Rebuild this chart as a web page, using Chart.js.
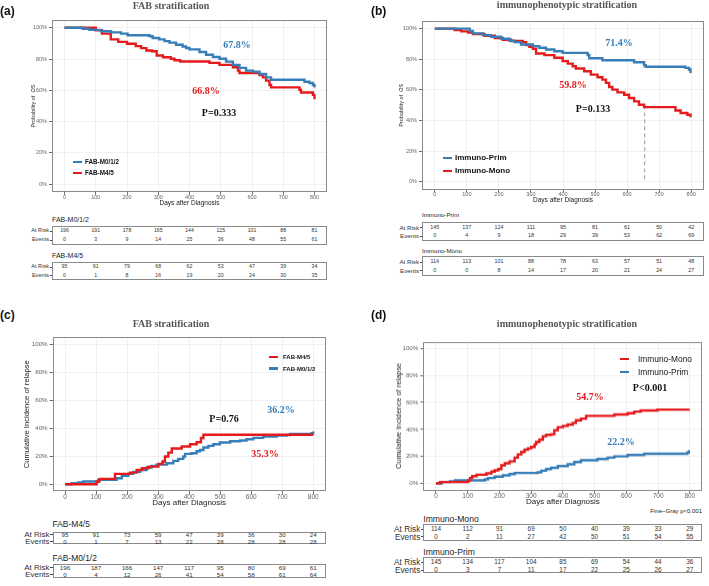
<!DOCTYPE html>
<html>
<head>
<meta charset="utf-8">
<script src="https://cdn.jsdelivr.net/npm/chart.js@4.4.0/dist/chart.umd.min.js"></script>
<style>
  body { margin: 0; background: #fff; }
  #fig { position: relative; width: 709px; height: 586px; overflow: hidden; font-family: "Liberation Sans", Arial, sans-serif; color: #222; }
  canvas { position: absolute; }
  .t { position: absolute; white-space: nowrap; line-height: 1; }
  .serif { font-family: "Liberation Serif", "Times New Roman", serif; font-weight: bold; }
  .box { position: absolute; border: 1px solid #8a8a8a; box-sizing: border-box; }
  .key { position: absolute; height: 2.5px; }
</style>
</head>
<body>
<div id="fig"></div>
<script>
// ---- shared ticks ----
const dayTicks = [0, 100, 200, 300, 400, 500, 600, 700, 800];
const pctTicks = [0, 20, 40, 60, 80, 100];

// ---- (a) OS by FAB ----
const osM012Days = [0, 58, 80, 117, 149, 181, 202, 272, 282, 303, 320, 336, 357, 378, 389, 400, 432, 453, 475, 496, 517, 539, 560, 581, 603, 624, 645, 661, 768, 784, 795, 800];
const osM012Surv = [100, 99.4, 98.7, 97.8, 97.1, 96.3, 95.2, 94.6, 93.5, 92.6, 91.5, 90.5, 89.2, 88.1, 87.1, 86.2, 84.5, 82.8, 81.3, 80.2, 78.4, 76.3, 74.4, 72.6, 72, 70.5, 68.3, 66.8, 65.5, 64.7, 63.4, 61.9];
const osM45Days = [0, 100, 120, 148, 172, 200, 228, 245, 262, 280, 295, 315, 340, 352, 370, 464, 496, 539, 555, 560, 624, 635, 645, 656, 661, 752, 757, 795, 800];
const osM45Surv = [100, 98.4, 96.3, 92.6, 91, 89.8, 88.3, 87, 85.5, 85, 82.3, 81.2, 80.2, 79.3, 78.5, 77.6, 76.3, 74.8, 72.6, 71.1, 69.8, 68.3, 66.2, 63.4, 61.9, 60.3, 58.6, 57.1, 54.3];
const riskM012A = [196, 191, 178, 165, 144, 125, 101, 88, 81];
const eventsM012A = [0, 3, 9, 14, 25, 36, 48, 55, 61];
const riskM45A = [95, 91, 79, 68, 62, 53, 47, 39, 34];
const eventsM45A = [0, 1, 8, 16, 19, 20, 24, 30, 35];

// ---- (b) OS by immunophenotype ----
const osPrimDays = [0, 109, 119, 150, 176, 207, 233, 249, 269, 306, 326, 347, 373, 399, 477, 482, 523, 622, 653, 658, 782, 793, 798];
const osPrimSurv = [100, 98.5, 96.9, 95.8, 94.7, 93.4, 92.1, 91.2, 89.7, 88.6, 87.5, 86.4, 85.3, 84.2, 82.7, 80.7, 79.4, 78.1, 76.1, 75.1, 74.4, 73.3, 71.1];
const osMonoDays = [0, 62, 83, 104, 119, 155, 187, 212, 238, 275, 285, 295, 306, 316, 342, 373, 399, 415, 430, 440, 466, 487, 508, 523, 534, 544, 554, 570, 591, 606, 622, 637, 653, 751, 767, 788, 798];
const osMonoSurv = [100, 99.1, 98.2, 97.4, 96.5, 95.4, 93.9, 92.8, 91.9, 91.2, 89.3, 88.2, 86.9, 83.8, 82.7, 81, 78.8, 77.2, 75.5, 74, 72.2, 70, 68.3, 66.7, 64.6, 61.9, 60.2, 58.4, 56.9, 54.7, 52.5, 50.3, 48.8, 46.6, 44.9, 43.8, 42.2];
const medianMonoDay = 655;
const riskPrimB = [145, 137, 124, 111, 95, 81, 61, 50, 42];
const eventsPrimB = [0, 4, 9, 18, 29, 39, 53, 62, 69];
const riskMonoB = [114, 113, 101, 88, 78, 63, 57, 51, 48];
const eventsMonoB = [0, 0, 8, 14, 17, 20, 21, 24, 27];

// ---- (c) relapse by FAB ----
const ciM45Days = [0, 102, 111, 161, 209, 231, 248, 269, 301, 314, 322, 333, 344, 376, 403, 424, 438, 446, 800];
const ciM45Vals = [0, 1.9, 3.8, 7.4, 8.3, 10.2, 11.4, 12.6, 14.5, 16.2, 19.8, 22.6, 25.5, 26.9, 28.6, 30, 33, 35.3, 35.3];
const ciM012Days = [0, 21, 43, 59, 107, 166, 183, 204, 220, 242, 263, 279, 295, 328, 349, 365, 381, 387, 408, 424, 435, 446, 462, 478, 499, 532, 564, 585, 607, 639, 682, 714, 725, 795, 800];
const ciM012Vals = [0, 0.7, 1.2, 1.9, 3.1, 4.3, 6, 7.4, 8.8, 10.2, 11.9, 13.1, 14, 15, 16.7, 18.1, 19.8, 21.7, 22.1, 23.6, 24.5, 26.2, 27.4, 28.6, 29.8, 30.7, 31.2, 32.1, 33.1, 34, 34.8, 35.2, 36, 36.4, 37.6];
const riskM45C = [95, 91, 73, 59, 47, 39, 36, 30, 24];
const eventsM45C = [0, 1, 7, 13, 22, 28, 28, 28, 28];
const riskM012C = [196, 187, 166, 147, 117, 95, 80, 69, 61];
const eventsM012C = [0, 4, 12, 26, 41, 54, 58, 61, 64];

// ---- (d) relapse by immunophenotype ----
const ciMonoDays = [0, 13, 101, 107, 114, 128, 159, 175, 185, 196, 206, 217, 232, 248, 258, 269, 279, 290, 300, 311, 316, 326, 337, 347, 363, 373, 384, 400, 415, 431, 441, 457, 473, 562, 604, 625, 645, 698, 797];
const ciMonoVals = [0, 1, 2, 4, 5.4, 6.4, 7.4, 8.7, 9.7, 10.6, 13.4, 14.9, 16.3, 19.1, 21.5, 23.3, 25, 26, 27, 29, 30.7, 32.4, 34.9, 35.9, 36.4, 39.4, 41.6, 42.6, 43.6, 44.8, 46.8, 48, 50, 51, 52, 53.2, 54, 54.7, 55.2];
const ciPrimDays = [0, 18, 44, 60, 154, 164, 185, 211, 232, 248, 321, 332, 347, 363, 384, 415, 436, 457, 509, 541, 562, 604, 656, 792, 797];
const ciPrimVals = [0, 1, 1.5, 2.2, 3, 4, 5, 5.9, 6.9, 7.7, 8.2, 9.4, 10.6, 11.6, 12.9, 14.1, 15.8, 17.1, 18.1, 19.1, 20, 21, 22, 22.8, 24.5];
const riskMonoD = [114, 112, 91, 69, 50, 40, 39, 33, 29];
const eventsMonoD = [0, 2, 11, 27, 42, 50, 51, 54, 55];
const riskPrimD = [145, 134, 117, 104, 85, 69, 54, 44, 36];
const eventsPrimD = [0, 3, 7, 11, 17, 22, 25, 26, 27];

const RED = '#E41A1C';
const BLUE = '#377EB8';

Chart.defaults.font.family = '"Liberation Sans", Arial, sans-serif';
const fig = document.getElementById('fig');

// grey panel border like ggplot
const framePlugin = {
  id: 'frame',
  afterDatasetsDraw(chart) {
    const { ctx, chartArea: a } = chart;
    ctx.save();
    ctx.strokeStyle = '#8a8a8a';
    ctx.lineWidth = 1;
    ctx.strokeRect(Math.round(a.left) + 0.5, Math.round(a.top) + 0.5, Math.round(a.width) - 1, Math.round(a.height) - 1);
    ctx.restore();
  }
};

function text(str, x, y, css, cls, anchor) {
  const d = document.createElement('div');
  d.className = 't' + (cls ? ' ' + cls : '');
  d.textContent = str;
  const tx = anchor === 'left' ? '0' : anchor === 'right' ? '-100%' : '-50%';
  Object.assign(d.style, { left: x + 'px', top: y + 'px', transform: `translate(${tx},-50%)` }, css || {});
  fig.appendChild(d);
  return d;
}

function series(days, vals, color, extra) {
  return Object.assign({
    data: days.map((d, i) => ({ x: d, y: vals[i] })),
    borderColor: color, borderWidth: 2.4, stepped: 'before',
    pointRadius: 0, fill: false, tension: 0
  }, extra || {});
}

function makeChart(p) {
  const cv = document.createElement('canvas');
  cv.width = p.w; cv.height = p.h;
  Object.assign(cv.style, { left: p.x + 'px', top: p.y + 'px', width: p.w + 'px', height: p.h + 'px' });
  fig.appendChild(cv);
  const chart = new Chart(cv, {
    type: 'line',
    data: { datasets: p.datasets },
    options: {
      responsive: false, animation: false, devicePixelRatio: 1,
      layout: { padding: p.pad },
      plugins: { legend: { display: false }, tooltip: { enabled: false } },
      scales: {
        x: {
          type: 'linear', min: -40, max: 840,
          afterBuildTicks: s => { s.ticks = dayTicks.map(v => ({ value: v })); },
          afterFit: s => { s.height = p.xH; },
          border: { display: false },
          grid: { color: '#ececec', lineWidth: 0.8, tickColor: '#555', tickLength: 3 },
          ticks: { font: { size: p.xTick }, color: '#666', padding: p.xTickPad, maxRotation: 0, autoSkip: false },
          title: { display: true, text: 'Days after Diagnosis', font: { size: p.xTitle }, color: '#222', padding: 0 }
        },
        y: {
          type: 'linear', min: -5, max: 105,
          afterBuildTicks: s => { s.ticks = pctTicks.map(v => ({ value: v })); },
          afterFit: s => { s.width = p.yW; },
          border: { display: false },
          grid: { color: '#ececec', lineWidth: 0.8, tickColor: '#444', tickLength: 3 },
          ticks: { font: { size: p.yTick }, color: '#666', padding: 2, callback: v => v + '%' },
          title: { display: true, text: p.yTitleText, font: { size: p.yTitle }, color: '#222', padding: 0 }
        }
      }
    },
    plugins: [framePlugin]
  });
  return chart;
}

function riskTable(chart, p, t) {
  const a = chart.chartArea, xs = chart.scales.x;
  const left = p.x + a.left;
  text(t.name, left, t.nameY, { fontSize: t.nameSize + 'px', color: '#222' }, '', 'left');
  const box = document.createElement('div');
  box.className = 'box';
  Object.assign(box.style, { left: left + 'px', top: t.top + 'px', width: a.width + 'px', height: (t.bottom - t.top) + 'px' });
  fig.appendChild(box);
  t.rows.forEach(r => {
    text(r.label, left - 3, r.y, { fontSize: t.labSize + 'px', color: '#333' }, '', 'right');
    const tk = document.createElement('div');
    Object.assign(tk.style, { position: 'absolute', left: (left - 2.5) + 'px', top: (r.y - 0.4) + 'px', width: '2.5px', height: '0.8px', background: '#444' });
    fig.appendChild(tk);
    r.vals.forEach((v, i) => {
      text(String(v), p.x + xs.getPixelForValue(dayTicks[i]), r.y, { fontSize: t.numSize + 'px', color: '#333' });
    });
  });
}

function legend(items, x, y0, gap, textGap, size, weight) {
  items.forEach((it, i) => {
    const y = y0 + i * gap;
    const k = document.createElement('div');
    k.className = 'key';
    Object.assign(k.style, { left: x + 'px', top: (y - 1.25) + 'px', width: '9px', background: it.color });
    fig.appendChild(k);
    text(it.label, x + textGap, y, { fontSize: size + 'px', fontWeight: weight, color: '#111' }, '', 'left');
  });
}

// ================= (a) =================
const pA = { x: 0, y: 0, w: 335, h: 207, pad: { left: 30, top: 20, right: 8, bottom: 0 }, yW: 22, xH: 15,
  xTick: 5.5, yTick: 5.5, xTickPad: -1, xTitle: 6.5, yTitle: 5.5, yTitleText: 'Probability of  OS',
  datasets: [series(osM012Days, osM012Surv, BLUE), series(osM45Days, osM45Surv, RED)] };
const chartA = makeChart(pA);
riskTable(chartA, pA, { name: 'FAB-M0/1/2', nameY: 219, nameSize: 7, top: 226, bottom: 245, labSize: 5.6, numSize: 5.2,
  rows: [{ label: 'At Risk', vals: riskM012A, y: 231.3 }, { label: 'Events', vals: eventsM012A, y: 240 }] });
riskTable(chartA, pA, { name: 'FAB-M4/5', nameY: 255, nameSize: 7, top: 262, bottom: 280, labSize: 5.6, numSize: 5.2,
  rows: [{ label: 'At Risk', vals: riskM45A, y: 267 }, { label: 'Events', vals: eventsM45A, y: 275.7 }] });
legend([{ label: 'FAB-M0/1/2', color: BLUE }, { label: 'FAB-M4/5', color: RED }], 73, 162, 11, 12, 6.3, 'bold');

// ================= (b) =================
const pB = { x: 375, y: 0, w: 334, h: 204, pad: { left: 23, top: 21, right: 5, bottom: 0 }, yW: 24, xH: 14.5,
  xTick: 5.5, yTick: 5.5, xTickPad: -1, xTitle: 6.5, yTitle: 5.5, yTitleText: 'Probability of  OS',
  datasets: [
    series(osPrimDays, osPrimSurv, BLUE),
    series(osMonoDays, osMonoSurv, RED),
    series([medianMonoDay, medianMonoDay], [50, 0], '#999', { borderWidth: 1, borderDash: [4, 3], stepped: false })
  ] };
const chartB = makeChart(pB);
riskTable(chartB, pB, { name: 'Immuno-Prim', nameY: 215, nameSize: 6.2, top: 222, bottom: 241, labSize: 6.2, numSize: 5.4,
  rows: [{ label: 'At Risk', vals: riskPrimB, y: 227.7 }, { label: 'Events', vals: eventsPrimB, y: 236 }] });
riskTable(chartB, pB, { name: 'Immuno-Mono', nameY: 251, nameSize: 6.2, top: 256, bottom: 276, labSize: 6.2, numSize: 5.4,
  rows: [{ label: 'At Risk', vals: riskMonoB, y: 262.3 }, { label: 'Events', vals: eventsMonoB, y: 270.7 }] });
legend([{ label: 'Immuno-Prim', color: BLUE }, { label: 'Immuno-Mono', color: RED }], 443, 158, 13, 12, 8, 'bold');

// ================= (c) =================
const pC = { x: 0, y: 330, w: 335, h: 178, pad: { left: 22.6, top: 7.3, right: 9.3, bottom: 0 }, yW: 30, xH: 16.8,
  xTick: 6.5, yTick: 6.2, xTickPad: -1, xTitle: 8, yTitle: 7.6, yTitleText: 'Cumulative Incidence of relapse',
  datasets: [series(ciM45Days, ciM45Vals, RED), series(ciM012Days, ciM012Vals, BLUE)] };
const chartC = makeChart(pC);
riskTable(chartC, pC, { name: 'FAB-M4/5', nameY: 524, nameSize: 8.4, top: 531.7, bottom: 544.3, labSize: 8, numSize: 6.2,
  rows: [{ label: 'At Risk', vals: riskM45C, y: 534.6 }, { label: 'Events', vals: eventsM45C, y: 541.6 }] });
riskTable(chartC, pC, { name: 'FAB-M0/1/2', nameY: 557.7, nameSize: 8.4, top: 564, bottom: 577.7, labSize: 8, numSize: 6.2,
  rows: [{ label: 'At Risk', vals: riskM012C, y: 567.5 }, { label: 'Events', vals: eventsM012C, y: 574.6 }] });
legend([{ label: 'FAB-M4/5', color: RED }, { label: 'FAB-M0/1/2', color: BLUE }], 269, 357, 11.5, 14, 6, 'bold');

// ================= (d) =================
const pD = { x: 375, y: 330, w: 334, h: 176.5, pad: { left: 19.3, top: 11.6, right: 6.5, bottom: 0 }, yW: 29, xH: 16.8,
  xTick: 6.5, yTick: 6.2, xTickPad: -1, xTitle: 8, yTitle: 7.4, yTitleText: 'Cumulative Incidence of relapse',
  datasets: [series(ciMonoDays, ciMonoVals, RED), series(ciPrimDays, ciPrimVals, BLUE)] };
const chartD = makeChart(pD);
riskTable(chartD, pD, { name: 'Immuno-Mono', nameY: 519, nameSize: 8.6, top: 524.3, bottom: 541, labSize: 8.3, numSize: 6.4,
  rows: [{ label: 'At Risk', vals: riskMonoD, y: 529 }, { label: 'Events', vals: eventsMonoD, y: 536.7 }] });
riskTable(chartD, pD, { name: 'Immuno-Prim', nameY: 552.3, nameSize: 8.6, top: 556.7, bottom: 573.3, labSize: 8.3, numSize: 6.4,
  rows: [{ label: 'At Risk', vals: riskPrimD, y: 562 }, { label: 'Events', vals: eventsPrimD, y: 570 }] });
legend([{ label: 'Immuno-Mono', color: RED }, { label: 'Immuno-Prim', color: BLUE }], 620, 359, 13, 18, 8.4, 'normal');
text('Fine\u2212Gray p<0.001', 702, 511, { fontSize: '6px', color: '#222' }, '', 'right');

// ---- titles, panel letters, annotations ----
text('FAB stratification', 171, 6, { fontSize: '10px', color: '#555' }, 'serif');
text('immunophenotypic stratification', 567, 4.5, { fontSize: '10px', color: '#555' }, 'serif');
text('FAB stratification', 171, 324, { fontSize: '10px', color: '#555' }, 'serif');
text('immunophenotypic stratification', 567, 324, { fontSize: '10px', color: '#555' }, 'serif');
text('(a)', 0, 11, { fontSize: '12px', fontWeight: 'bold', color: '#111' }, '', 'left');
text('(b)', 371, 11, { fontSize: '12px', fontWeight: 'bold', color: '#111' }, '', 'left');
text('(c)', 0, 315, { fontSize: '12px', fontWeight: 'bold', color: '#111' }, '', 'left');
text('(d)', 371, 315, { fontSize: '12px', fontWeight: 'bold', color: '#111' }, '', 'left');

text('67.8%', 237, 45, { fontSize: '10px', color: BLUE }, 'serif');
text('66.8%', 206, 91, { fontSize: '10px', color: RED }, 'serif');
text('P=0.333', 219, 113, { fontSize: '10px', color: '#111' }, 'serif');
text('71.4%', 619, 43, { fontSize: '10px', color: BLUE }, 'serif');
text('59.8%', 573, 85, { fontSize: '10px', color: RED }, 'serif');
text('P=0.133', 593, 109, { fontSize: '10px', color: '#111' }, 'serif');
text('36.2%', 281, 410, { fontSize: '10px', color: BLUE }, 'serif');
text('P=0.76', 224, 419, { fontSize: '10px', color: '#111' }, 'serif');
text('35.3%', 265, 454, { fontSize: '10px', color: RED }, 'serif');
text('54.7%', 590, 397, { fontSize: '10px', color: RED }, 'serif');
text('P<0.001', 650, 388, { fontSize: '10px', color: '#111' }, 'serif');
text('22.2%', 621, 442, { fontSize: '10px', color: BLUE }, 'serif');
</script>
</body>
</html>
